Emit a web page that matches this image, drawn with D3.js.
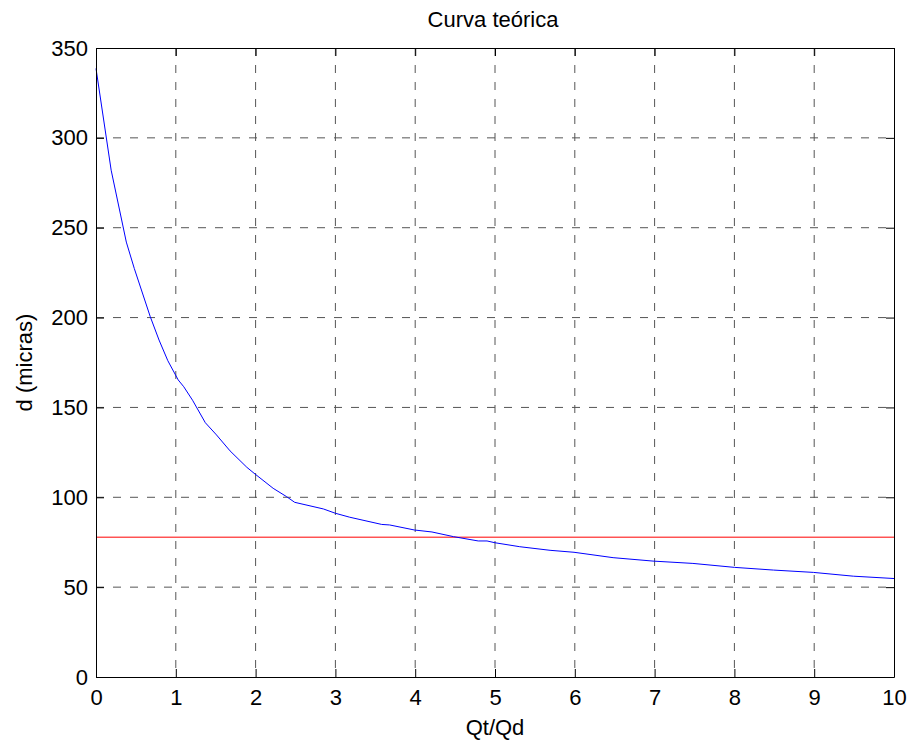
<!DOCTYPE html>
<html>
<head>
<meta charset="utf-8">
<script src="https://cdn.jsdelivr.net/npm/d3@7"></script>
<style>
  body { margin: 0; background: #fff; }
  text { font-family: "Liberation Sans", Arial, sans-serif; fill: #000; }
</style>
</head>
<body>
<div id="chart"></div>
<script>
// values
var qt = [0, 0.19, 0.38, 0.48, 0.68, 0.79, 0.9, 1.03, 1.1, 1.21, 1.37, 1.51, 1.68, 1.89, 1.98, 2.22, 2.39, 2.49,
          2.85, 3.0, 3.18, 3.58, 3.68, 3.99, 4.21, 4.48, 4.79, 4.9, 5.0, 5.31, 5.69, 5.99, 6.48, 6.98, 7.48,
          8.0, 8.49, 8.99, 9.49, 10]
var dMicras = [338.6, 282, 242, 227.3, 200.5, 187.5, 176, 165.3, 161.5, 154, 141.5, 134.7, 125.8, 116.7, 113.4, 105, 100.3, 97.2,
          93.5, 91.1, 88.9, 84.9, 84.6, 81.8, 80.7, 78.1, 75.7, 75.7, 74.7, 72.5, 70.5, 69.4, 66.4, 64.5, 63.2,
          61, 59.5, 58.2, 56.1, 54.8]
var refLine = 77.8
var xTicks = [0, 1, 2, 3, 4, 5, 6, 7, 8, 9, 10]
var yTicks = [0, 50, 100, 150, 200, 250, 300, 350]

var W = 913, H = 744
var m = {left: 96, right: 19, top: 48, bottom: 67}
var w = W - m.left - m.right
var h = H - m.top - m.bottom

var svg = d3.select("#chart").append("svg")
    .attr("width", W)
    .attr("height", H)

var x = d3.scaleLinear().domain([0, 10]).range([0, w])
var y = d3.scaleLinear().domain([0, 350]).range([h, 0])

var g = svg.append("g").attr("transform", "translate(" + m.left + "," + m.top + ")")

// grid
g.selectAll(".vgrid").data(xTicks.slice(1, -1)).enter().append("line")
    .attr("x1", function(d){ return x(d) }).attr("x2", function(d){ return x(d) })
    .attr("y1", 0).attr("y2", h)
    .attr("stroke", "#555").attr("stroke-dasharray", "8,9")
g.selectAll(".hgrid").data(yTicks.slice(1, -1)).enter().append("line")
    .attr("y1", function(d){ return y(d) }).attr("y2", function(d){ return y(d) })
    .attr("x1", 0).attr("x2", w)
    .attr("stroke", "#555").attr("stroke-dasharray", "8,9")

// reference line
g.append("line")
    .attr("x1", 0).attr("x2", w)
    .attr("y1", y(refLine)).attr("y2", y(refLine))
    .attr("stroke", "#ff0000").attr("stroke-width", 1)

// curve
var line = d3.line()
    .x(function(d, i){ return x(qt[i]) })
    .y(function(d){ return y(d) })
g.append("path").datum(dMicras)
    .attr("d", line)
    .attr("fill", "none")
    .attr("stroke", "#0000ff")
    .attr("stroke-width", 1)

// axes, ticks inward on all four sides
var tickLen = 8
var xAxis = g.append("g").attr("transform", "translate(0," + h + ")")
    .call(d3.axisBottom(x).tickValues(xTicks).tickSizeInner(-tickLen).tickSizeOuter(0).tickPadding(12))
var yAxis = g.append("g")
    .call(d3.axisLeft(y).tickValues(yTicks).tickSizeInner(-tickLen).tickSizeOuter(0).tickPadding(8))
var xTop = g.append("g")
    .call(d3.axisTop(x).tickValues(xTicks).tickSizeInner(-tickLen).tickSizeOuter(0).tickFormat(""))
var yRight = g.append("g").attr("transform", "translate(" + w + ",0)")
    .call(d3.axisRight(y).tickValues(yTicks).tickSizeInner(-tickLen).tickSizeOuter(0).tickFormat(""))

;[xAxis, yAxis, xTop, yRight].forEach(function(a){
    a.selectAll("path").attr("stroke", "#000")
    a.selectAll("line").attr("stroke", "#000")
    a.selectAll("text").style("font-size", "22px").attr("font-family", "Liberation Sans, Arial, sans-serif")
})
xAxis.selectAll("text").attr("dy", "0.71em")

// labels
svg.append("text").text("Curva teórica")
    .attr("x", m.left + w / 2 - 2).attr("y", 27)
    .attr("text-anchor", "middle").style("font-size", "22px")
svg.append("text").text("Qt/Qd")
    .attr("x", m.left + w / 2).attr("y", 735)
    .attr("text-anchor", "middle").style("font-size", "22px")
svg.append("text").text("d (micras)")
    .attr("transform", "translate(32," + (m.top + h / 2) + ") rotate(-90)")
    .attr("text-anchor", "middle").style("font-size", "22px")
</script>
</body>
</html>
